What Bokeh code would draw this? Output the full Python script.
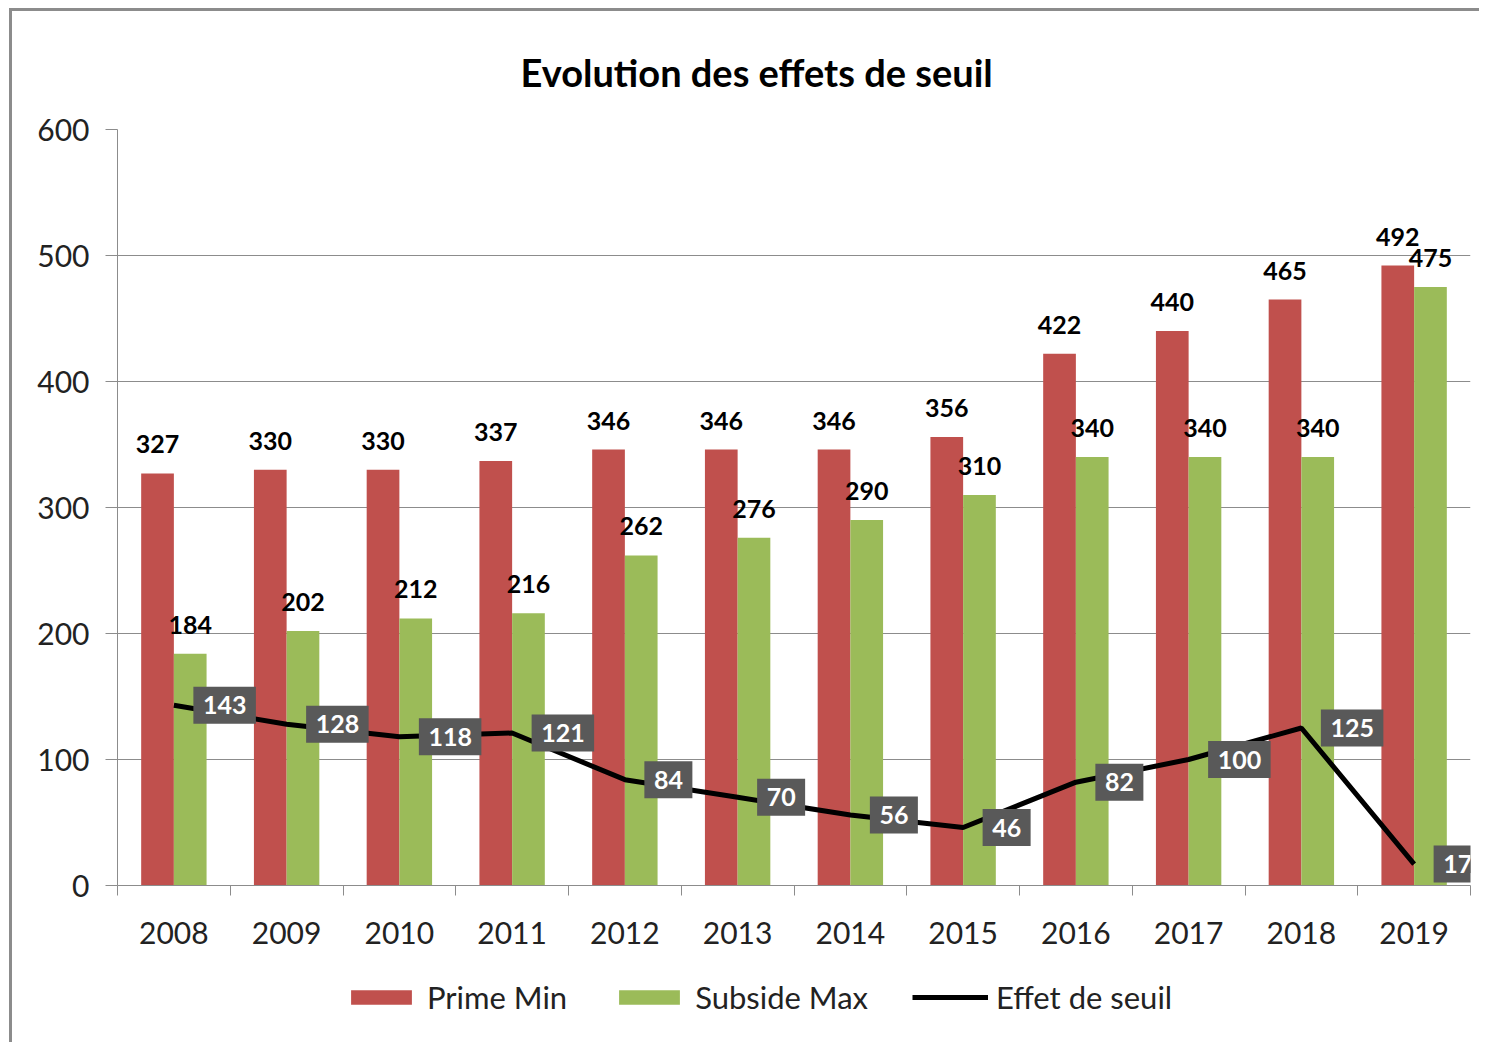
import numpy as np
from bokeh.plotting import figure
from bokeh.layouts import column
from bokeh.models import (ColumnDataSource, Range1d, FixedTicker, LabelSet,
                          Legend, LegendItem)
from bokeh.core.properties import value
from bokeh.embed import file_html
from bokeh.resources import INLINE

years = ["2008", "2009", "2010", "2011", "2012", "2013", "2014", "2015",
         "2016", "2017", "2018", "2019"]
prime_min = [327, 330, 330, 337, 346, 346, 346, 356, 422, 440, 465, 492]
subside_max = [184, 202, 212, 216, 262, 276, 290, 310, 340, 340, 340, 475]
effet_seuil = [143, 128, 118, 121, 84, 70, 56, 46, 82, 100, 125, 17]
y_ticks = [0, 100, 200, 300, 400, 500, 600]
series_names = ["Prime Min", "Subside Max", "Effet de seuil"]

RED = "#C0504D"
GREEN = "#9BBB59"
FONT = "Lato"
BORDER = "3px solid #8c8c8c"

centers = np.arange(len(years)) + 0.5
bw = 0.29
src = ColumnDataSource(dict(
    xc=centers,
    xr=centers - bw / 2,
    xg=centers + bw / 2,
    prime=prime_min,
    subs=subside_max,
    eff=effet_seuil,
    prime_t=[str(v) for v in prime_min],
    subs_t=[str(v) for v in subside_max],
    eff_t=[str(v) for v in effet_seuil],
))

p = figure(frame_width=1350, frame_height=753, output_backend="svg",
           toolbar_location=None,
           x_range=Range1d(0, len(years)), y_range=Range1d(0, 600),
           min_border_left=105, min_border_right=12, min_border_top=118,
           min_border_bottom=90, title="Evolution des effets de seuil")
p.styles = {"border-left": BORDER, "border-top": BORDER,
            "margin-left": "9px", "margin-top": "8px"}

p.title.text_font = FONT
p.title.text_font_size = "38px"
p.title.text_font_style = "bold"
p.title.text_color = "#000000"
p.title.align = "left"
p.title.offset = 403
p.title.standoff = 69

p.outline_line_color = None
p.xgrid.grid_line_color = None
p.ygrid.grid_line_color = "#8c8c8c"
p.ygrid.grid_line_width = 1

p.vbar(x="xr", top="prime", width=bw, source=src, fill_color=RED, line_color=None)
p.vbar(x="xg", top="subs", width=bw, source=src, fill_color=GREEN, line_color=None)
p.line(x="xc", y="eff", source=src, line_color="black", line_width=5)

# axes
xa = p.xaxis[0]
xa.ticker = FixedTicker(ticks=list(centers), minor_ticks=list(range(len(years) + 1)))
xa.major_label_overrides = {float(c): y for c, y in zip(centers, years)}
xa.major_tick_line_color = None
xa.major_tick_out = 0
xa.minor_tick_out = 10
xa.minor_tick_in = 0
xa.minor_tick_line_color = "#8c8c8c"
xa.axis_line_color = "#8c8c8c"
xa.major_label_text_font = FONT
xa.major_label_text_font_size = "30px"
xa.major_label_text_color = "#222222"
xa.major_label_standoff = 26

ya = p.yaxis[0]
ya.ticker = FixedTicker(ticks=y_ticks)
ya.minor_tick_line_color = None
ya.major_tick_out = 12
ya.major_tick_in = 0
ya.major_tick_line_color = "#8c8c8c"
ya.axis_line_color = "#8c8c8c"
ya.major_label_text_font = FONT
ya.major_label_text_font_size = "30px"
ya.major_label_text_color = "#222222"
ya.major_label_standoff = 16

# bar labels
for xcol, ycol, tcol in (("xr", "prime", "prime_t"), ("xg", "subs", "subs_t")):
    p.add_layout(LabelSet(x=xcol, y=ycol, text=tcol, source=src,
                          y_offset=20, text_align="center",
                          text_baseline="alphabetic",
                          text_font=value(FONT), text_font_size=value("25px"),
                          text_font_style=value("bold"), text_color="black"))

# line labels (thick border of the same colour acts as padding)
p.add_layout(LabelSet(x="xc", y="eff", text="eff_t", source=src,
                      x_offset=29, text_align="left", text_baseline="middle",
                      text_font=value(FONT), text_font_size=value("25px"),
                      text_font_style=value("bold"), text_color="white",
                      background_fill_color="#595959",
                      border_line_color="#595959", border_line_width=19,
                      border_line_join="miter"))

# legend strip below the chart (its renderers use the same data, kept out of view)
lf = figure(width=1467, height=70, output_backend="svg", toolbar_location=None,
            x_range=Range1d(100, 101), y_range=Range1d(1000, 1001),
            x_axis_location=None, y_axis_location=None, min_border=0)
lf.styles = {"border-left": BORDER, "margin-left": "9px"}
lf.outline_line_color = None
lf.xgrid.grid_line_color = None
lf.ygrid.grid_line_color = None
l_red = lf.vbar(x="xr", top="prime", width=bw, source=src, fill_color=RED, line_color=None)
l_green = lf.vbar(x="xg", top="subs", width=bw, source=src, fill_color=GREEN, line_color=None)
l_line = lf.line(x="xc", y="eff", source=src, line_color="black", line_width=5)

legend = Legend(items=[
    LegendItem(label=series_names[0], renderers=[l_red]),
    LegendItem(label=series_names[1], renderers=[l_green]),
    LegendItem(label=series_names[2], renderers=[l_line]),
], orientation="horizontal", location=(226, 26))
legend.label_text_font = FONT
legend.label_text_font_size = "31px"
legend.label_text_color = "#222222"
legend.glyph_width = 76
legend.glyph_height = 18
legend.label_standoff = 8
legend.spacing = 44
legend.margin = 0
legend.border_line_color = None
legend.background_fill_alpha = 0
lf.add_layout(legend, "center")

layout = column(p, lf, spacing=0)
open("out.html", "w").write(file_html(layout, INLINE))
